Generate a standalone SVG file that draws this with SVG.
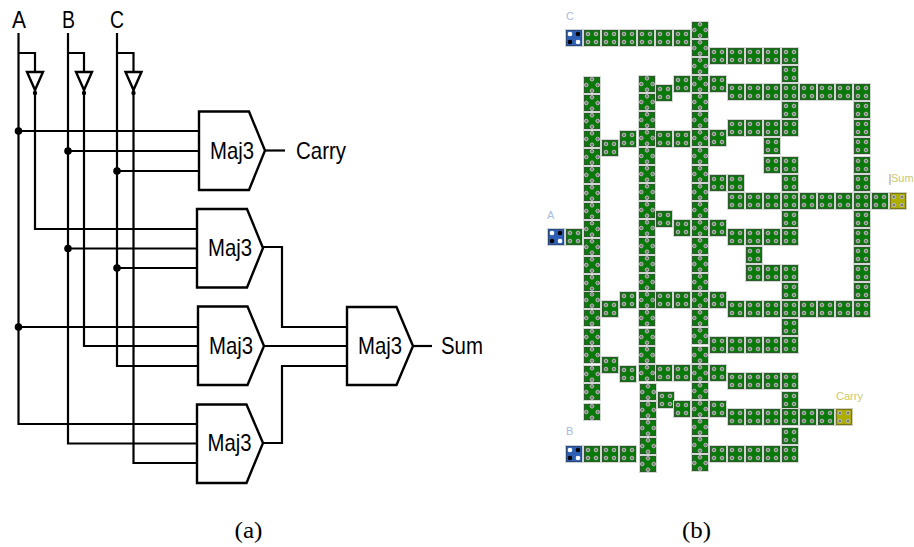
<svg xmlns="http://www.w3.org/2000/svg" xmlns:xlink="http://www.w3.org/1999/xlink" width="914" height="547" viewBox="0 0 914 547">
<style>
.w{fill:none;stroke:#000;stroke-width:2.2}
.g{fill:#fff;stroke:#000;stroke-width:2.4}
.t{font-family:"Liberation Sans",Arial,sans-serif;font-size:24px;fill:#000}
.c{font-family:"Liberation Serif","Times New Roman",serif;font-size:24px;fill:#000}
.lb{font-family:"Liberation Sans",Arial,sans-serif;font-size:11px;fill:#a9bae3}
.ly{font-family:"Liberation Sans",Arial,sans-serif;font-size:11px;fill:#c9c96e}
.base{fill:#0a780a;stroke:#2d5a2d;stroke-width:1}
.edge{fill:none;stroke:#d4d8d4;stroke-width:1}
.d{fill:#777;stroke:#bcbcbc;stroke-width:1}
</style>
<defs>
<g id="s"><rect x="-8.500" y="-8.500" width="17" height="17" class="edge"/><rect x="-7.500" y="-7.500" width="15" height="15" class="base"/><circle cx="-4" cy="-4" r="1.800" class="d"/><circle cx="4" cy="-4" r="1.800" class="d"/><circle cx="-4" cy="4" r="1.800" class="d"/><circle cx="4" cy="4" r="1.800" class="d"/></g>
<g id="x"><rect x="-8.500" y="-8.500" width="17" height="17" class="edge"/><rect x="-7.500" y="-7.500" width="15" height="15" class="base"/><circle cx="0" cy="-5.700" r="1.800" class="d"/><circle cx="5.700" cy="0" r="1.800" class="d"/><circle cx="-5.700" cy="0" r="1.800" class="d"/><circle cx="0" cy="5.700" r="1.800" class="d"/></g>
<g id="b"><rect x="-8.500" y="-8.500" width="17" height="17" fill="none" stroke="#c9cfd9"/><rect x="-7.500" y="-7.500" width="15" height="15" fill="#2f5fb3" stroke="#2d4a7a"/><circle cx="-4" cy="-4" r="2.300" fill="#fff"/><circle cx="4" cy="-4" r="2.300" fill="#000"/><circle cx="-4" cy="4" r="2.300" fill="#000"/><circle cx="4" cy="4" r="2.300" fill="#fff"/></g>
<g id="y"><rect x="-8.500" y="-8.500" width="17" height="17" fill="none" stroke="#cfcfc0"/><rect x="-7.500" y="-7.500" width="15" height="15" fill="#adad00" stroke="#77771a"/><circle cx="-4" cy="-4" r="1.800" class="d"/><circle cx="4" cy="-4" r="1.800" class="d"/><circle cx="-4" cy="4" r="1.800" class="d"/><circle cx="4" cy="4" r="1.800" class="d"/></g>
</defs>
<rect width="914" height="547" fill="#fff"/>
<g id="connectors">
<path class="w" d="M18.500 33V424H197"/>
<path class="w" d="M18.500 53H35V72M35 90V229H197"/>
<path class="w" d="M68 33V443.500H197"/>
<path class="w" d="M68 53H84V72M84 90V346H198"/>
<path class="w" d="M117 33V366H198"/>
<path class="w" d="M117 53H133.500V72M133.500 90V463H197"/>
<path class="w" d="M18.500 131H199M68 151H199M117 171H199"/>
<path class="w" d="M68 248.500H197M117 268H197M18.500 327H198"/>
<path class="w" d="M265 150.500H285"/>
<path class="w" d="M263 247H282V327H347"/>
<path class="w" d="M264 346H347"/>
<path class="w" d="M263 443H282V366H347"/>
<path class="w" d="M413 346H432"/>
<circle cx="18.500" cy="131" r="3.800"/><circle cx="68" cy="151" r="3.800"/><circle cx="117" cy="171" r="3.800"/>
<circle cx="68" cy="248.500" r="3.800"/><circle cx="117" cy="268" r="3.800"/><circle cx="18.500" cy="327" r="3.800"/>
<circle cx="35" cy="93" r="2.200"/><circle cx="84" cy="93" r="2.200"/><circle cx="133.500" cy="93" r="2.200"/>
</g>
<g id="inv-a"><path class="g" d="M27 72H43L35 90Z"/></g>
<g id="inv-b"><path class="g" d="M76 72H92L84 90Z"/></g>
<g id="inv-c"><path class="g" d="M125.500 72H141.500L133.500 90Z"/></g>
<g id="maj-carry"><path class="g" d="M199 111.500H249L265 150.500L249 190H199Z"/><text class="t" x="210" y="158.500" textLength="44" lengthAdjust="spacingAndGlyphs">Maj3</text></g>
<g id="maj-1"><path class="g" d="M197 209H247L263 248L247 287.500H197Z"/><text class="t" x="208" y="256" textLength="44" lengthAdjust="spacingAndGlyphs">Maj3</text></g>
<g id="maj-2"><path class="g" d="M198 306.500H247.500L264 346L247.500 385H198Z"/><text class="t" x="209" y="354" textLength="44" lengthAdjust="spacingAndGlyphs">Maj3</text></g>
<g id="maj-3"><path class="g" d="M197 404.500H246.500L263 443L246.500 483H197Z"/><text class="t" x="207.500" y="451" textLength="44" lengthAdjust="spacingAndGlyphs">Maj3</text></g>
<g id="maj-sum"><path class="g" d="M347 307H396.500L413 346L396.500 385H347Z"/><text class="t" x="358" y="354" textLength="44" lengthAdjust="spacingAndGlyphs">Maj3</text></g>
<g id="labels-a">
<text class="t" x="12" y="28" textLength="14" lengthAdjust="spacingAndGlyphs">A</text>
<text class="t" x="62" y="28" textLength="13" lengthAdjust="spacingAndGlyphs">B</text>
<text class="t" x="110" y="28" textLength="14" lengthAdjust="spacingAndGlyphs">C</text>
<text class="t" x="296" y="159" textLength="50" lengthAdjust="spacingAndGlyphs">Carry</text>
<text class="t" x="441" y="354" textLength="42" lengthAdjust="spacingAndGlyphs">Sum</text>
<text class="c" x="234.500" y="538" textLength="28" lengthAdjust="spacingAndGlyphs">(a)</text>
<text class="c" x="682" y="538" textLength="29" lengthAdjust="spacingAndGlyphs">(b)</text>
</g>
<g id="layout-b">
<g id="cross-tiles">
<use href="#x" x="592" y="85"/><use href="#x" x="592" y="103"/><use href="#x" x="592" y="121"/><use href="#x" x="592" y="139"/><use href="#x" x="592" y="157"/><use href="#x" x="592" y="175"/><use href="#x" x="592" y="193"/><use href="#x" x="592" y="211"/><use href="#x" x="592" y="229"/><use href="#x" x="592" y="247"/><use href="#x" x="592" y="265"/><use href="#x" x="592" y="283"/><use href="#x" x="592" y="300"/><use href="#x" x="592" y="318"/><use href="#x" x="592" y="337"/><use href="#x" x="592" y="355"/><use href="#x" x="592" y="374"/><use href="#x" x="592" y="392"/><use href="#x" x="592" y="412"/>
<use href="#x" x="647" y="84"/><use href="#x" x="647" y="102"/><use href="#x" x="647" y="120"/><use href="#x" x="647" y="138"/><use href="#x" x="647" y="156"/><use href="#x" x="647" y="174"/><use href="#x" x="647" y="192"/><use href="#x" x="647" y="210"/><use href="#x" x="647" y="228"/><use href="#x" x="647" y="246"/><use href="#x" x="647" y="264"/><use href="#x" x="647" y="282"/><use href="#x" x="647" y="300"/><use href="#x" x="647" y="318"/><use href="#x" x="647" y="337"/><use href="#x" x="647" y="355"/><use href="#x" x="647" y="373"/><use href="#x" x="648" y="392"/><use href="#x" x="648" y="410"/><use href="#x" x="648" y="428"/><use href="#x" x="648" y="446"/><use href="#x" x="648" y="464"/>
<use href="#x" x="700" y="30"/><use href="#x" x="700" y="48"/><use href="#x" x="700" y="66"/><use href="#x" x="700" y="84"/><use href="#x" x="700" y="102"/><use href="#x" x="700" y="120"/><use href="#x" x="700" y="138"/><use href="#x" x="700" y="156"/><use href="#x" x="700" y="174"/><use href="#x" x="700" y="192"/><use href="#x" x="700" y="210"/><use href="#x" x="700" y="228"/><use href="#x" x="700" y="246"/><use href="#x" x="700" y="264"/><use href="#x" x="700" y="282"/><use href="#x" x="700" y="300"/><use href="#x" x="700" y="318"/><use href="#x" x="700" y="336"/><use href="#x" x="700" y="355"/><use href="#x" x="700" y="373"/><use href="#x" x="700" y="391"/><use href="#x" x="700" y="409"/><use href="#x" x="700" y="427"/><use href="#x" x="700" y="445"/><use href="#x" x="700" y="463"/>
</g>
<g id="square-tiles">
<use href="#s" x="592" y="38"/><use href="#s" x="610" y="38"/><use href="#s" x="628" y="38"/><use href="#s" x="646" y="38"/><use href="#s" x="664" y="38"/><use href="#s" x="682" y="38"/>
<use href="#s" x="718" y="56"/><use href="#s" x="736" y="56"/><use href="#s" x="754" y="56"/><use href="#s" x="772" y="56"/><use href="#s" x="790" y="56"/>
<use href="#s" x="790" y="74"/><use href="#s" x="682" y="84"/><use href="#s" x="718" y="84"/><use href="#s" x="664" y="93"/>
<use href="#s" x="736" y="92"/><use href="#s" x="754" y="92"/><use href="#s" x="772" y="92"/><use href="#s" x="790" y="92"/><use href="#s" x="808" y="92"/><use href="#s" x="826" y="92"/><use href="#s" x="844" y="92"/><use href="#s" x="862" y="92"/>
<use href="#s" x="790" y="110"/><use href="#s" x="862" y="110"/>
<use href="#s" x="736" y="128"/><use href="#s" x="754" y="128"/><use href="#s" x="772" y="128"/><use href="#s" x="790" y="128"/><use href="#s" x="862" y="128"/>
<use href="#s" x="628" y="139"/><use href="#s" x="664" y="139"/><use href="#s" x="682" y="139"/><use href="#s" x="718" y="138"/><use href="#s" x="610" y="148"/>
<use href="#s" x="772" y="146"/><use href="#s" x="862" y="146"/><use href="#s" x="772" y="165"/><use href="#s" x="790" y="165"/><use href="#s" x="862" y="165"/>
<use href="#s" x="718" y="183"/><use href="#s" x="736" y="183"/><use href="#s" x="790" y="183"/><use href="#s" x="862" y="183"/>
<use href="#s" x="736" y="201"/><use href="#s" x="754" y="201"/><use href="#s" x="772" y="201"/><use href="#s" x="790" y="201"/><use href="#s" x="808" y="201"/><use href="#s" x="826" y="201"/><use href="#s" x="844" y="201"/><use href="#s" x="862" y="201"/><use href="#s" x="880" y="201"/>
<use href="#s" x="664" y="219"/><use href="#s" x="790" y="219"/><use href="#s" x="862" y="219"/><use href="#s" x="682" y="228"/><use href="#s" x="718" y="228"/>
<use href="#s" x="574" y="237"/><use href="#s" x="736" y="237"/><use href="#s" x="754" y="237"/><use href="#s" x="772" y="237"/><use href="#s" x="790" y="237"/><use href="#s" x="862" y="237"/>
<use href="#s" x="754" y="255"/><use href="#s" x="862" y="255"/>
<use href="#s" x="754" y="273"/><use href="#s" x="772" y="273"/><use href="#s" x="790" y="273"/><use href="#s" x="862" y="273"/>
<use href="#s" x="790" y="291"/><use href="#s" x="862" y="291"/>
<use href="#s" x="628" y="300"/><use href="#s" x="664" y="300"/><use href="#s" x="682" y="300"/><use href="#s" x="718" y="300"/><use href="#s" x="610" y="309"/>
<use href="#s" x="736" y="309"/><use href="#s" x="754" y="309"/><use href="#s" x="772" y="309"/><use href="#s" x="790" y="309"/><use href="#s" x="808" y="309"/><use href="#s" x="826" y="309"/><use href="#s" x="844" y="309"/><use href="#s" x="862" y="309"/>
<use href="#s" x="790" y="327"/>
<use href="#s" x="718" y="345"/><use href="#s" x="736" y="345"/><use href="#s" x="754" y="345"/><use href="#s" x="772" y="345"/><use href="#s" x="790" y="345"/>
<use href="#s" x="610" y="365"/><use href="#s" x="628" y="374"/><use href="#s" x="664" y="373"/><use href="#s" x="682" y="373"/><use href="#s" x="718" y="373"/>
<use href="#s" x="736" y="381"/><use href="#s" x="754" y="381"/><use href="#s" x="772" y="381"/><use href="#s" x="790" y="381"/>
<use href="#s" x="666" y="400"/><use href="#s" x="790" y="400"/><use href="#s" x="682" y="409"/><use href="#s" x="718" y="409"/>
<use href="#s" x="736" y="417"/><use href="#s" x="754" y="417"/><use href="#s" x="772" y="417"/><use href="#s" x="790" y="417"/><use href="#s" x="808" y="417"/><use href="#s" x="826" y="417"/>
<use href="#s" x="790" y="436"/>
<use href="#s" x="592" y="454"/><use href="#s" x="610" y="454"/><use href="#s" x="628" y="454"/>
<use href="#s" x="718" y="454"/><use href="#s" x="736" y="454"/><use href="#s" x="754" y="454"/><use href="#s" x="772" y="454"/><use href="#s" x="790" y="454"/>
</g>
<g id="port-c"><use href="#b" x="574" y="38"/><text class="lb" x="566" y="20">C</text></g>
<g id="port-a"><use href="#b" x="556" y="237"/><text class="lb" x="547" y="219">A</text></g>
<g id="port-b"><use href="#b" x="574" y="454"/><text class="lb" x="566" y="435">B</text></g>
<g id="port-sum"><use href="#y" x="898" y="201"/><path d="M890 174V185" stroke="#999" stroke-width="1"/><text class="ly" x="891" y="182">Sum</text></g>
<g id="port-carry"><use href="#y" x="844" y="417"/><text class="ly" x="836" y="400">Carry</text></g>
</g>
</svg>
